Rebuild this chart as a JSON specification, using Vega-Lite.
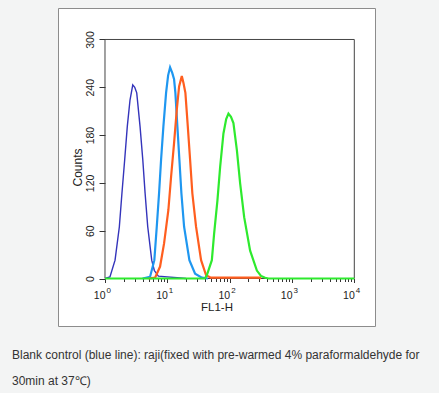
{
  "$schema": "https://vega.github.io/schema/vega-lite/v6.json",
  "width": 317,
  "height": 318,
  "autosize": "none",
  "padding": {"left": 58, "top": 8, "right": 64, "bottom": 67},
  "background": "#f3f4f4",
  "config": {
    "view": {"fill": "white", "stroke": "#8c8c8c", "strokeWidth": 1},
    "font": "Liberation Sans"
  },
  "title": {
    "text": ["Blank control (blue line): raji(fixed with pre-warmed 4% paraformaldehyde for", "30min at 37℃)"],
    "orient": "bottom",
    "anchor": "start",
    "frame": "group",
    "dx": -46,
    "offset": 24,
    "fontSize": 12,
    "fontWeight": "normal",
    "font": "Liberation Sans",
    "color": "#333333",
    "lineHeight": 26
  },
  "datasets": {
    "hist": [
      {"series": "darkblue", "fl1h": 1.0, "count": 0},
      {"series": "darkblue", "fl1h": 1.2, "count": 2},
      {"series": "darkblue", "fl1h": 1.45, "count": 23},
      {"series": "darkblue", "fl1h": 1.7, "count": 65},
      {"series": "darkblue", "fl1h": 1.87, "count": 107},
      {"series": "darkblue", "fl1h": 2.07, "count": 149},
      {"series": "darkblue", "fl1h": 2.28, "count": 191},
      {"series": "darkblue", "fl1h": 2.52, "count": 224},
      {"series": "darkblue", "fl1h": 2.79, "count": 243},
      {"series": "darkblue", "fl1h": 3.0, "count": 240},
      {"series": "darkblue", "fl1h": 3.23, "count": 233},
      {"series": "darkblue", "fl1h": 3.65, "count": 191},
      {"series": "darkblue", "fl1h": 4.04, "count": 149},
      {"series": "darkblue", "fl1h": 4.4, "count": 107},
      {"series": "darkblue", "fl1h": 4.85, "count": 65},
      {"series": "darkblue", "fl1h": 5.62, "count": 23},
      {"series": "darkblue", "fl1h": 6.19, "count": 10},
      {"series": "darkblue", "fl1h": 7.18, "count": 3},
      {"series": "darkblue", "fl1h": 10.0, "count": 2},
      {"series": "darkblue", "fl1h": 14.4, "count": 1},
      {"series": "darkblue", "fl1h": 20.0, "count": 0},

      {"series": "lightblue", "fl1h": 4.0, "count": 0},
      {"series": "lightblue", "fl1h": 5.28, "count": 2},
      {"series": "lightblue", "fl1h": 6.19, "count": 23},
      {"series": "lightblue", "fl1h": 6.77, "count": 65},
      {"series": "lightblue", "fl1h": 7.37, "count": 107},
      {"series": "lightblue", "fl1h": 7.94, "count": 149},
      {"series": "lightblue", "fl1h": 8.65, "count": 191},
      {"series": "lightblue", "fl1h": 9.55, "count": 233},
      {"series": "lightblue", "fl1h": 10.3, "count": 255},
      {"series": "lightblue", "fl1h": 11.07, "count": 265},
      {"series": "lightblue", "fl1h": 12.0, "count": 258},
      {"series": "lightblue", "fl1h": 12.83, "count": 250},
      {"series": "lightblue", "fl1h": 13.47, "count": 233},
      {"series": "lightblue", "fl1h": 14.5, "count": 191},
      {"series": "lightblue", "fl1h": 15.62, "count": 149},
      {"series": "lightblue", "fl1h": 16.82, "count": 107},
      {"series": "lightblue", "fl1h": 18.58, "count": 65},
      {"series": "lightblue", "fl1h": 22.6, "count": 23},
      {"series": "lightblue", "fl1h": 27.9, "count": 6},
      {"series": "lightblue", "fl1h": 35.8, "count": 1},
      {"series": "lightblue", "fl1h": 45.0, "count": 0},

      {"series": "orange", "fl1h": 5.0, "count": 0},
      {"series": "orange", "fl1h": 6.36, "count": 1},
      {"series": "orange", "fl1h": 7.65, "count": 15},
      {"series": "orange", "fl1h": 8.87, "count": 44},
      {"series": "orange", "fl1h": 10.4, "count": 86},
      {"series": "orange", "fl1h": 11.5, "count": 128},
      {"series": "orange", "fl1h": 12.83, "count": 170},
      {"series": "orange", "fl1h": 14.19, "count": 212},
      {"series": "orange", "fl1h": 15.45, "count": 241},
      {"series": "orange", "fl1h": 17.07, "count": 254},
      {"series": "orange", "fl1h": 18.2, "count": 245},
      {"series": "orange", "fl1h": 19.5, "count": 233},
      {"series": "orange", "fl1h": 21.3, "count": 191},
      {"series": "orange", "fl1h": 23.2, "count": 149},
      {"series": "orange", "fl1h": 25.2, "count": 107},
      {"series": "orange", "fl1h": 28.9, "count": 65},
      {"series": "orange", "fl1h": 34.8, "count": 23},
      {"series": "orange", "fl1h": 41.9, "count": 4},
      {"series": "orange", "fl1h": 50.0, "count": 1},
      {"series": "orange", "fl1h": 300.0, "count": 1},
      {"series": "orange", "fl1h": 320.0, "count": 0},

      {"series": "green", "fl1h": 1.0, "count": 0},
      {"series": "green", "fl1h": 40.0, "count": 0},
      {"series": "green", "fl1h": 43.0, "count": 4},
      {"series": "green", "fl1h": 51.8, "count": 23},
      {"series": "green", "fl1h": 56.3, "count": 56},
      {"series": "green", "fl1h": 63.7, "count": 98},
      {"series": "green", "fl1h": 70.4, "count": 140},
      {"series": "green", "fl1h": 79.5, "count": 182},
      {"series": "green", "fl1h": 88.0, "count": 200},
      {"series": "green", "fl1h": 95.7, "count": 207},
      {"series": "green", "fl1h": 105.0, "count": 203},
      {"series": "green", "fl1h": 115.0, "count": 195},
      {"series": "green", "fl1h": 130.6, "count": 161},
      {"series": "green", "fl1h": 147.5, "count": 119},
      {"series": "green", "fl1h": 171.0, "count": 77},
      {"series": "green", "fl1h": 213.0, "count": 35},
      {"series": "green", "fl1h": 273.5, "count": 10},
      {"series": "green", "fl1h": 320.0, "count": 3},
      {"series": "green", "fl1h": 371.0, "count": 1},
      {"series": "green", "fl1h": 420.0, "count": 0},
      {"series": "green", "fl1h": 10000.0, "count": 0}
    ],
    "decades": [
      {"fl1h": 1, "exponent": "0"},
      {"fl1h": 10, "exponent": "1"},
      {"fl1h": 100, "exponent": "2"},
      {"fl1h": 1000, "exponent": "3"},
      {"fl1h": 10000, "exponent": "4"}
    ]
  },
  "layer": [
    {
      "data": {"values": [{}]},
      "mark": {"type": "rect", "fill": "transparent", "stroke": "#444444", "strokeWidth": 1},
      "encoding": {
        "x": {"datum": 1, "type": "quantitative", "scale": {"type": "log", "domain": [0.1762, 21480], "nice": false}},
        "x2": {"datum": 10000},
        "y": {"datum": 0, "type": "quantitative", "scale": {"domain": [-59.6, 339.5], "nice": false, "zero": false}},
        "y2": {"datum": 300}
      }
    },
    {
      "data": {"name": "decades"},
      "mark": {"type": "text", "fontSize": 8, "font": "Liberation Sans", "color": "#222222", "align": "left", "baseline": "alphabetic", "dx": 1.5, "dy": 14.5},
      "encoding": {
        "x": {"field": "fl1h", "type": "quantitative", "scale": {"type": "log", "domain": [0.1762, 21480], "nice": false}},
        "y": {"datum": 0, "type": "quantitative", "scale": {"domain": [-59.6, 339.5], "nice": false, "zero": false}},
        "text": {"field": "exponent"}
      }
    },
    {
      "data": {"name": "hist"},
      "layer": [
        {
          "transform": [{"filter": "datum.series == 'darkblue'"}],
          "mark": {"type": "line", "color": "#3434bb", "strokeWidth": 1.4}
        },
        {
          "transform": [{"filter": "datum.series == 'lightblue'"}],
          "mark": {"type": "line", "color": "#1f97f0", "strokeWidth": 2.2}
        },
        {
          "transform": [{"filter": "datum.series == 'orange'"}],
          "mark": {"type": "line", "color": "#ff5e1f", "strokeWidth": 2.2}
        },
        {
          "transform": [{"filter": "datum.series == 'green'"}],
          "mark": {"type": "line", "color": "#2eea2e", "strokeWidth": 2.2}
        }
      ],
      "encoding": {
        "x": {
          "field": "fl1h",
          "type": "quantitative",
          "scale": {"type": "log", "domain": [0.1762, 21480], "nice": false},
          "axis": {
            "values": [1, 2, 3, 4, 5, 6, 7, 8, 9, 10, 20, 30, 40, 50, 60, 70, 80, 90, 100, 200, 300, 400, 500, 600, 700, 800, 900, 1000, 2000, 3000, 4000, 5000, 6000, 7000, 8000, 9000, 10000],
            "offset": -47.5,
            "domain": false,
            "grid": false,
            "tickColor": "#333333",
            "tickWidth": 1,
            "tickSize": {"condition": {"test": "abs(log(datum.value)/LN10 - round(log(datum.value)/LN10)) < 0.001", "value": 4}, "value": 3},
            "labelExpr": "abs(log(datum.value)/LN10 - round(log(datum.value)/LN10)) < 0.001 ? '10' : ''",
            "labelFontSize": 10.5,
            "labelColor": "#222222",
            "labelPadding": 8,
            "labelAlign": "right",
            "labelDx": 1,
            "labelOverlap": false,
            "labelFlush": false,
            "title": "FL1-H",
            "titleFontSize": 11.5,
            "titleFontWeight": "normal",
            "titleColor": "#222222",
            "titlePadding": 0
          }
        },
        "y": {
          "field": "count",
          "type": "quantitative",
          "scale": {"domain": [-59.6, 339.5], "nice": false, "zero": false},
          "axis": {
            "values": [0, 15, 30, 45, 60, 75, 90, 105, 120, 135, 150, 165, 180, 195, 210, 225, 240, 255, 270, 285, 300],
            "offset": -47,
            "domain": false,
            "grid": false,
            "tickColor": "#333333",
            "tickWidth": 1,
            "tickSize": {"condition": {"test": "datum.value % 60 == 0", "value": 6}, "value": 3},
            "labelExpr": "datum.value % 60 == 0 ? datum.label : ''",
            "labelAngle": 270,
            "labelAlign": "center",
            "labelBaseline": "bottom",
            "labelFontSize": 10.5,
            "labelColor": "#222222",
            "labelPadding": 4,
            "labelOverlap": false,
            "labelFlush": false,
            "title": "Counts",
            "titleFontSize": 12,
            "titleFontWeight": "normal",
            "titleColor": "#222222",
            "titlePadding": 1
          }
        }
      }
    }
  ]
}
